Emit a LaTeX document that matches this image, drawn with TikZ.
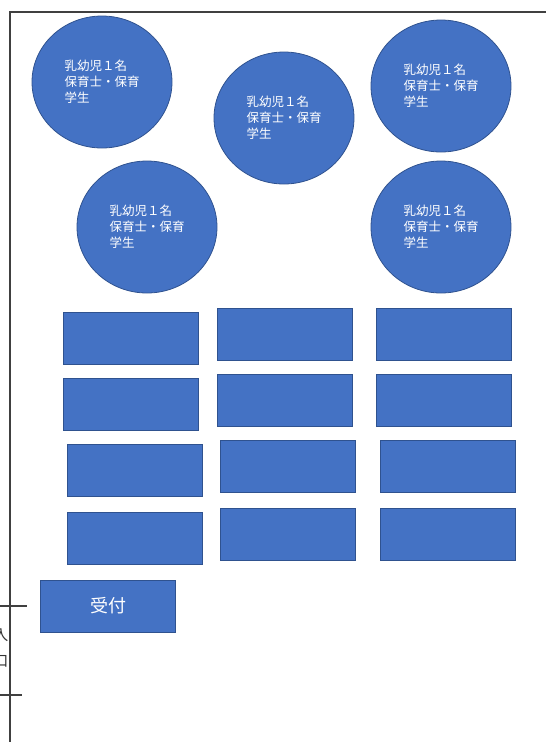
\documentclass[tikz,border=0pt]{standalone}
\usepackage{fontspec}
\newfontfamily\jpfont{Noto Sans CJK JP}
\usepackage{xcolor}
\usetikzlibrary{shapes.geometric, positioning}

\definecolor{officeblue}{HTML}{4472C4}
\definecolor{officeedge}{HTML}{2F528F}

\begin{document}
\begin{tikzpicture}[
    x=1pt, y=-1pt,
    font=\jpfont,
    staff/.style  ={ellipse, draw=officeedge, line width=0.8pt, fill=officeblue,
                    minimum width=140pt, minimum height=132pt, inner sep=0pt},
    stafftxt/.style={align=left, text=white, font=\jpfont\fontsize{12.5}{16}\selectfont},
    desk/.style   ={draw=officeedge, line width=0.8pt, fill=officeblue,
                    minimum width=135pt, minimum height=52pt, inner sep=0pt},
    wall/.style   ={draw=black!75, line width=1.1pt}
]
\useasboundingbox (0,0) rectangle (546,742);

% Room outline and entrance marks
\coordinate (tl) at (10,12);
\coordinate (tr) at (546,12);
\coordinate (bl) at (10,742);
\draw[wall] (tr) -- (tl) -- (bl);
\coordinate (e1a) at (0,606);  \coordinate (e1b) at (27,606);
\coordinate (e2a) at (0,695);  \coordinate (e2b) at (22,695);
\draw[wall] (e1a) -- (e1b);
\draw[wall] (e2a) -- (e2b);
\node[align=center, text=black!80, font=\jpfont\fontsize{15}{26}\selectfont]
    (entry) at (1,648) {入\\口};

% Staff circles (top area)
\node[staff] (s1) at (102,82)  {};
\node[staff] (s2) at (284,118) {};
\node[staff] (s3) at (441,86)  {};
\node[staff] (s4) at (147,227) {};
\node[staff] (s5) at (441,227) {};

\node[stafftxt] at (s1) {乳幼児１名\\保育士・保育\\学生};
\node[stafftxt] at (s2) {乳幼児１名\\保育士・保育\\学生};
\node[stafftxt] at (s3) {乳幼児１名\\保育士・保育\\学生};
\node[stafftxt] at (s4) {乳幼児１名\\保育士・保育\\学生};
\node[stafftxt] at (s5) {乳幼児１名\\保育士・保育\\学生};

% Desks, four rows of three
\node[desk] (d11) at (130.5,338) {};
\node[desk] (d12) at (285,334)   {};
\node[desk] (d13) at (443.5,334) {};

\node[desk] (d21) at (130.5,404) {};
\node[desk] (d22) at (285,400)   {};
\node[desk] (d23) at (443.5,400) {};

\node[desk] (d31) at (134.5,470) {};
\node[desk] (d32) at (288,466)   {};
\node[desk] (d33) at (447.5,466) {};

\node[desk] (d41) at (134.5,538) {};
\node[desk] (d42) at (288,534)   {};
\node[desk] (d43) at (447.5,534) {};

% Reception
\node[desk, text=white, font=\jpfont\fontsize{18}{20}\selectfont]
    (recep) at (108,606) {受付};

\end{tikzpicture}
\end{document}
